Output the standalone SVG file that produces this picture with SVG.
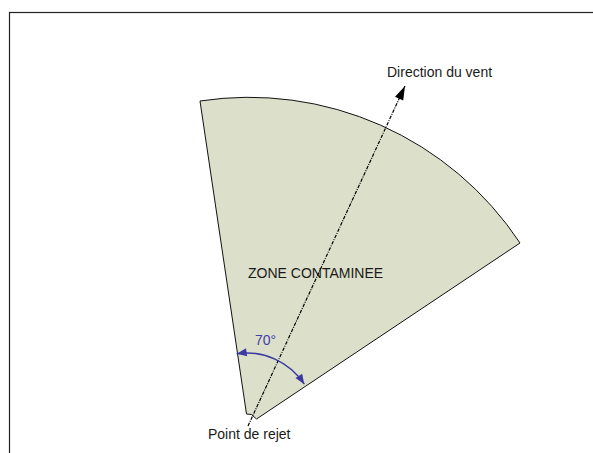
<svg xmlns="http://www.w3.org/2000/svg" width="593" height="453" viewBox="0 0 593 453">
<defs>
<style>
text{font-family:"Liberation Sans",Arial,sans-serif;font-size:14px;fill:#1a1a1a}
.blue{fill:#4040a8}
</style>
<marker id="arrowBlack" markerUnits="userSpaceOnUse" markerWidth="16" markerHeight="12" viewBox="0 0 16 12" refX="15" refY="6" orient="auto">
<path d="M1,1.5 L15,6 L1,10.5 Z" fill="#000"/>
</marker>
<marker id="arrowBlue" markerUnits="userSpaceOnUse" markerWidth="12" markerHeight="10" viewBox="0 0 12 10" refX="11" refY="5" orient="auto-start-reverse">
<path d="M1,1 L11,5 L1,9 Z" fill="#3a3aa0"/>
</marker>
</defs>
<rect x="0" y="0" width="593" height="453" fill="#fff"/>
<rect x="9.5" y="12.5" width="620" height="500" fill="none" stroke="#222" stroke-width="1.2"/>
<g id="zone">
<path d="M246.5,414 L200,101 A325,325 0 0 1 520,243 L256.5,419 L251.5,414.5 Z" fill="#dcdfca" stroke="#111" stroke-width="1"/>
<text x="248" y="278">ZONE CONTAMINEE</text>
</g>
<g id="connectors">
<line id="wind" x1="248" y1="426" x2="405" y2="86" stroke="#000" stroke-width="1.2" stroke-dasharray="3.5,1.2,1,1.2" marker-end="url(#arrowBlack)"/>
<path id="angle" d="M236.7,353.7 A69,69 0 0 1 304.3,384.2" fill="none" stroke="#3a3aa0" stroke-width="1.5" marker-start="url(#arrowBlue)" marker-end="url(#arrowBlue)"/>
</g>
<g id="labels">
<text x="387" y="77">Direction du vent</text>
<text x="208" y="439">Point de rejet</text>
<text class="blue" x="255" y="345">70°</text>
</g>
</svg>
